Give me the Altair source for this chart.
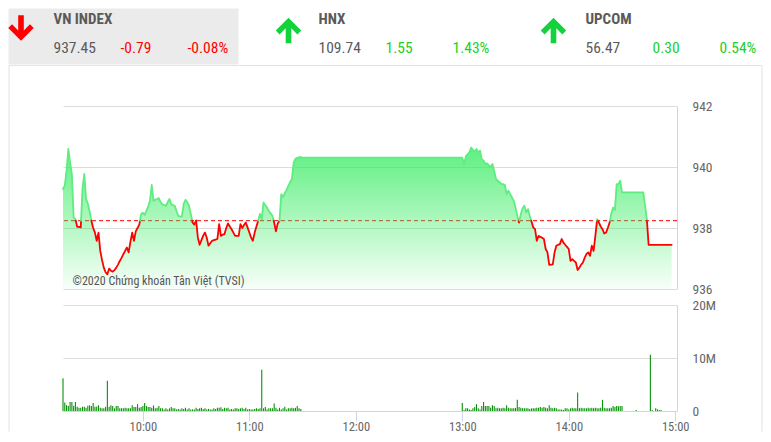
import altair as alt
import pandas as pd

DAY = "2020-10-21"

# ---------------- header data ----------------
index_names = ["VN INDEX", "HNX", "UPCOM"]
index_values = ["937.45", "109.74", "56.47"]
index_changes = ["-0.79", "1.55", "0.30"]
index_pcts = ["-0.08%", "1.43%", "0.54%"]

copyright_text = "©2020 Chứng khoán Tân Việt (TVSI)"

# ---------------- intraday VN-Index ----------------
price_times = [
    "09:15", "09:16", "09:17", "09:18", "09:19", "09:20", "09:21", "09:22", "09:23", "09:24",
    "09:25", "09:26", "09:27", "09:28", "09:29", "09:30", "09:31", "09:32", "09:33", "09:34",
    "09:35", "09:36", "09:37", "09:38", "09:39", "09:40", "09:41", "09:42", "09:43", "09:44",
    "09:45", "09:46", "09:47", "09:48", "09:49", "09:50", "09:51", "09:52", "09:53", "09:54",
    "09:55", "09:56", "09:57", "09:58", "09:59", "10:00", "10:01", "10:02", "10:03", "10:04",
    "10:05", "10:06", "10:07", "10:08", "10:09", "10:10", "10:11", "10:12", "10:13", "10:14",
    "10:15", "10:16", "10:17", "10:18", "10:19", "10:20", "10:21", "10:22", "10:23", "10:24",
    "10:25", "10:26", "10:27", "10:28", "10:29", "10:30", "10:31", "10:32", "10:33", "10:34",
    "10:35", "10:36", "10:37", "10:38", "10:39", "10:40", "10:41", "10:42", "10:43", "10:44",
    "10:45", "10:46", "10:47", "10:48", "10:49", "10:50", "10:51", "10:52", "10:53", "10:54",
    "10:55", "10:56", "10:57", "10:58", "10:59", "11:00", "11:01", "11:02", "11:03", "11:04",
    "11:05", "11:06", "11:07", "11:08", "11:09", "11:10", "11:11", "11:12", "11:13", "11:14",
    "11:15", "11:16", "11:17", "11:18", "11:19", "11:20", "11:21", "11:22", "11:23", "11:24",
    "11:25", "11:26", "11:27", "11:28", "11:29", "11:30",
    "13:00", "13:01", "13:02", "13:03", "13:04", "13:05", "13:06", "13:07", "13:08", "13:09",
    "13:10", "13:11", "13:12", "13:13", "13:14", "13:15", "13:16", "13:17", "13:18", "13:19",
    "13:20", "13:21", "13:22", "13:23", "13:24", "13:25", "13:26", "13:27", "13:28", "13:29",
    "13:30", "13:31", "13:32", "13:33", "13:34", "13:35", "13:36", "13:37", "13:38", "13:39",
    "13:40", "13:41", "13:42", "13:43", "13:44", "13:45", "13:46", "13:47", "13:48", "13:49",
    "13:50", "13:51", "13:52", "13:53", "13:54", "13:55", "13:56", "13:57", "13:58", "13:59",
    "14:00", "14:01", "14:02", "14:03", "14:04", "14:05", "14:06", "14:07", "14:08", "14:09",
    "14:10", "14:11", "14:12", "14:13", "14:14", "14:15", "14:16", "14:17", "14:18", "14:19",
    "14:20", "14:21", "14:22", "14:23", "14:24", "14:25", "14:26", "14:27", "14:28", "14:29",
    "14:30", "14:42", "14:44", "14:45", "14:58",
]
price_values = [
    939.28, 939.39, 939.88, 940.59, 940.15, 939.77, 938.34, 938.29, 938.04, 938.04,
    938.02, 939.30, 939.77, 938.95, 938.80, 938.55, 938.24, 938.00, 937.85, 937.58,
    937.85, 937.25, 936.95, 936.70, 936.55, 936.48, 936.67, 936.60, 936.57, 936.62,
    936.70, 936.80, 936.92, 937.02, 937.14, 937.25, 937.36, 937.20, 937.55, 937.85,
    937.58, 937.89, 938.00, 938.11, 938.45, 938.50, 938.43, 938.56, 938.70, 938.89,
    939.41, 938.89, 938.93, 938.95, 938.98, 938.85, 938.78, 938.75, 938.73, 938.85,
    938.95, 938.78, 938.75, 938.73, 938.55, 938.40, 938.38, 938.37, 938.78, 938.92,
    938.85, 938.73, 938.46, 938.18, 938.11, 938.25, 937.69, 937.45, 937.60, 937.75,
    937.85, 937.68, 937.42, 937.50, 937.58, 937.60, 937.62, 937.64, 938.13, 937.74,
    937.78, 937.80, 938.00, 938.15, 938.05, 937.96, 937.85, 937.74, 937.74, 937.74,
    938.13, 938.00, 938.10, 938.18, 938.02, 937.85, 937.69, 937.58, 937.85, 938.05,
    938.24, 938.46, 938.29, 938.84, 938.75, 938.67, 938.56, 938.48, 938.40, 938.18,
    937.89, 938.15, 938.24, 939.11, 939.02, 939.15, 939.25, 939.39, 939.50, 939.61,
    940.15, 940.27, 940.30, 940.32, 940.32, 940.31,
    940.31, 940.08, 940.35, 940.42, 940.48, 940.64, 940.56, 940.51, 940.59, 940.48,
    940.54, 940.26, 940.21, 940.10, 940.12, 940.05, 940.01, 940.10, 939.86, 939.61,
    939.55, 939.50, 939.44, 939.44, 939.41, 939.11, 939.22, 939.11, 939.00, 938.89,
    938.67, 938.40, 938.18, 938.46, 938.65, 938.73, 938.51, 938.62, 938.40, 938.21,
    938.02, 937.96, 937.58, 937.74, 937.71, 937.68, 937.64, 937.31, 937.20, 936.79,
    936.80, 936.81, 937.20, 937.42, 937.45, 937.47, 937.64, 937.52, 937.45, 937.38,
    937.31, 936.92, 936.98, 936.92, 936.87, 936.62, 936.70, 936.80, 936.87, 937.03,
    937.15, 937.20, 937.09, 937.42, 937.25, 937.74, 938.29, 938.18, 938.05, 937.96,
    937.82, 937.85, 938.00, 938.18, 938.48, 938.67, 938.59, 939.44, 939.44, 939.55,
    939.17, 939.17, 938.29, 937.45, 937.45,
]

# ---------------- volume (millions of shares per minute) ----------------
vol_morning_start = "09:15"
vol_morning = [
    6.2, 1.6, 1.1, 0.95, 1.7, 1.7, 1.0, 1.7, 0.8, 0.6,
    0.6, 0.8, 0.8, 0.6, 1.0, 1.1, 0.95, 1.5, 0.8, 0.85,
    1.1, 0.6, 0.5, 0.5, 0.8, 5.7, 0.8, 1.1, 0.95, 0.5,
    0.95, 0.95, 0.5, 0.5, 0.5, 0.6, 0.5, 0.5, 0.5, 1.1,
    0.76, 0.76, 1.3, 0.6, 0.76, 0.95, 1.5, 0.95, 0.76, 0.76,
    0.6, 1.05, 0.5, 0.6, 0.95, 0.5, 0.5, 0.3, 0.5, 0.3,
    0.5, 0.76, 0.5, 0.5, 0.3, 0.4, 0.3, 0.5, 0.4, 0.6,
    0.3, 0.5, 0.3, 0.3, 0.3, 0.6, 0.4, 0.5, 0.6, 0.4,
    0.5, 0.3, 0.4, 0.3, 0.3, 0.5, 0.4, 0.6, 0.6, 0.7,
    0.4, 0.6, 0.5, 0.6, 0.3, 0.4, 0.3, 0.5, 0.5, 0.4,
    0.5, 0.6, 0.4, 0.6, 0.3, 0.4, 0.3, 0.3, 0.4, 0.5,
    0.4, 0.5, 7.8, 0.5, 0.76, 0.3, 0.5, 0.5, 0.5, 1.4,
    0.6, 0.3, 0.6, 0.3, 0.5, 0.8, 0.3, 0.5, 0.5, 0.6,
    0.5, 0.6, 0.95, 0.5, 0.4,
]
vol_afternoon_start = "13:00"
vol_afternoon = [
    1.5, 0.2, 0.5, 0.5, 0.3, 0.2, 0.5, 0.76, 1.3, 0.5,
    0.3, 0.95, 1.7, 0.95, 0.95, 0.95, 0.6, 1.1, 0.95, 0.5,
    0.6, 0.5, 0.5, 0.6, 0.5, 1.1, 0.6, 0.5, 0.5, 0.5,
    0.6, 2.1, 0.76, 0.6, 0.5, 0.5, 0.5, 0.5, 0.4, 0.5,
    0.5, 0.5, 0.6, 0.6, 0.76, 0.6, 0.76, 0.6, 0.5, 1.1,
    0.6, 0.5, 0.6, 0.5, 0.3, 0.3, 0.3, 0.2, 0.5, 0.5,
    0.3, 0.5, 0.6, 0.5, 0.5, 3.5, 0.5, 0.6, 0.5, 0.5,
    0.5, 0.6, 0.5, 0.6, 0.5, 0.6, 0.5, 0.5, 0.6, 2.1,
    0.6, 0.5, 0.5, 0.5, 0.6, 0.95, 0.76, 0.95, 0.9, 0.95,
    0.95,
]
vol_late_times = ["14:38", "14:46", "14:47", "14:49", "14:50", "14:51", "14:52"]
vol_late_values = [0.2, 10.6, 0.2, 0.5, 0.3, 0.2, 0.2]

# ---------------- build tables ----------------
prev_close = round(float(index_values[0]) - float(index_changes[0]), 2)


def ts(hm):
    return pd.Timestamp(f"{DAY} {hm}")


price_df = pd.DataFrame({"time": [ts(t) for t in price_times], "value": price_values})


def lab(up):
    return "up" if up else "down"


pts = list(zip(price_df["time"], price_df["value"]))
rows = []
run = 0
side = pts[0][1] >= prev_close
rows.append(dict(time=pts[0][0], value=pts[0][1], side=lab(side), run=run))
for (t1, v1), (t2, v2) in zip(pts[:-1], pts[1:]):
    s2 = v2 >= prev_close
    if s2 != side:
        f = (prev_close - v1) / (v2 - v1)
        tc = (t1 + (t2 - t1) * f).round("s")
        rows.append(dict(time=tc, value=prev_close, side=lab(side), run=run))
        run += 1
        side = s2
        rows.append(dict(time=tc, value=prev_close, side=lab(side), run=run))
    rows.append(dict(time=t2, value=v2, side=lab(side), run=run))
line_df = pd.DataFrame(rows)

vol_times = (
    [ts(vol_morning_start) + pd.Timedelta(minutes=i) for i in range(len(vol_morning))]
    + [ts(vol_afternoon_start) + pd.Timedelta(minutes=i) for i in range(len(vol_afternoon))]
    + [ts(t) for t in vol_late_times]
)
vol_df = pd.DataFrame({"time": vol_times, "vol": vol_morning + vol_afternoon + vol_late_values})
ref_df = pd.DataFrame({"ref": [prev_close]})

# ---------------- styling / layout ----------------
FONT = "Liberation Sans Narrow, Roboto Condensed, Roboto"
W, H1, H2 = 614, 183, 106
OX, OY = 62.5, 105.4  # page position of the price plot origin

GREEN_LINE = "#5fec80"
RED = "#ff0000"
UP_TXT = "#1ccf2a"
GRID = "#dcdcdc"
AXIS_LINE = "#ccd6eb"
LABEL = "#666666"


def px(page_x):
    return page_x - OX


def py(page_y):
    return page_y - OY


def dt(h, m=0):
    return alt.DateTime(year=2020, month=10, date=21, hours=h, minutes=m)


x_scale = alt.Scale(domain=[dt(9, 15), dt(15, 1)], padding=0)
y_price = alt.Scale(domain=[936, 942], nice=False, zero=False)
price_axis = alt.Axis(
    orient="right", values=[936, 938, 940, 942], grid=True, gridColor=GRID,
    domain=True, domainColor=AXIS_LINE, ticks=False, tickSize=0, labelPadding=15,
    labelColor=LABEL, labelFontSize=13.5, labelFont=FONT, title=None, format="d",
)

base_price = alt.Chart(price_df)

ref_rule = alt.Chart(ref_df).mark_rule(color=RED, strokeDash=[4, 3], strokeWidth=1).encode(
    y=alt.Y("ref:Q", scale=y_price, axis=price_axis)
)

area = base_price.mark_area(
    color=alt.Gradient(
        gradient="linear",
        stops=[
            alt.GradientStop(color="rgba(40,235,85,0.75)", offset=0),
            alt.GradientStop(color="rgba(40,235,85,0.03)", offset=1),
        ],
        x1=0, x2=0, y1=0, y2=1,
    )
).encode(
    x=alt.X("time:T", scale=x_scale, axis=None),
    y=alt.Y("value:Q", scale=y_price, axis=price_axis),
    y2=alt.datum(936),
)

line = alt.Chart(line_df).mark_line(strokeWidth=1.8, strokeJoin="round", strokeCap="round").encode(
    x=alt.X("time:T", scale=x_scale, axis=None),
    y=alt.Y("value:Q", scale=y_price, axis=price_axis),
    color=alt.Color("side:N", scale=alt.Scale(domain=["up", "down"], range=[GREEN_LINE, RED]), legend=None),
    detail="run:N",
)

copyright_mark = alt.Chart(ref_df).mark_text(
    text=copyright_text, align="left", baseline="middle", font=FONT, fontSize=12, color="#555555"
).encode(x=alt.value(px(72)), y=alt.value(py(280)))

# decorations: header box, panel borders, arrows, header texts
decor = []
decor.append(alt.Chart(ref_df).mark_rect(color="#ebebeb").encode(
    x=alt.value(px(8)), x2=alt.value(px(238)), y=alt.value(py(8)), y2=alt.value(py(64))))
decor.append(alt.Chart(ref_df).mark_rule(color="#e2e2e2", strokeWidth=1).encode(
    x=alt.value(px(8.5)), x2=alt.value(px(761.5)), y=alt.value(py(65))))
for xx in (8.5, 761.5):
    decor.append(alt.Chart(ref_df).mark_rule(color="#e2e2e2", strokeWidth=1).encode(
        x=alt.value(px(xx)), y=alt.value(py(65)), y2=alt.value(py(431))))

DOWN = "M1,0 L0.7,-0.3 L0.22,0.18 L0.22,-1 L-0.22,-1 L-0.22,0.18 L-0.7,-0.3 L-1,0 L0,1 Z"
UP = "M1,0 L0.7,0.3 L0.22,-0.18 L0.22,1 L-0.22,1 L-0.22,-0.18 L-0.7,0.3 L-1,0 L0,-1 Z"

col_text_x = [53, 318, 585]
col_arrow_x = [20.5, 288, 553]
col_arrow_y = [27.5, 30, 30]
for i, name in enumerate(index_names):
    up = float(index_changes[i]) >= 0
    ccol = UP_TXT if up else RED
    decor.append(alt.Chart(ref_df).mark_point(
        shape=UP if up else DOWN, filled=True, size=650, opacity=1, strokeWidth=0,
        color=("#14d23c" if up else RED),
    ).encode(x=alt.value(px(col_arrow_x[i])), y=alt.value(py(col_arrow_y[i]))))
    x0 = col_text_x[i]
    decor.append(alt.Chart(ref_df).mark_text(
        text=name, align="left", baseline="middle", font=FONT, fontSize=15,
        fontWeight="bold", color="#5a5a5a",
    ).encode(x=alt.value(px(x0)), y=alt.value(py(18))))
    decor.append(alt.Chart(ref_df).mark_text(
        text=index_values[i], align="left", baseline="middle", font=FONT, fontSize=15.5, color="#5a5a5a",
    ).encode(x=alt.value(px(x0)), y=alt.value(py(47))))
    decor.append(alt.Chart(ref_df).mark_text(
        text=index_changes[i], align="left", baseline="middle", font=FONT, fontSize=15.5, color=ccol,
    ).encode(x=alt.value(px(x0 + 67)), y=alt.value(py(47))))
    decor.append(alt.Chart(ref_df).mark_text(
        text=index_pcts[i], align="left", baseline="middle", font=FONT, fontSize=15.5, color=ccol,
    ).encode(x=alt.value(px(x0 + 134)), y=alt.value(py(47))))

price_chart = alt.layer(*decor, ref_rule, area, line, copyright_mark).properties(width=W, height=H1)

vol_chart = alt.Chart(vol_df).mark_bar(width=1.1, color="#089108").encode(
    x=alt.X("time:T", scale=x_scale, axis=alt.Axis(
        values=[dt(h) for h in range(10, 16)], format="%H:%M", grid=False,
        domain=True, domainColor=AXIS_LINE, ticks=True, tickColor=AXIS_LINE, tickSize=10,
        labelColor=LABEL, labelFontSize=12.5, labelFont=FONT, labelPadding=-1, title=None,
    )),
    y=alt.Y("vol:Q", scale=alt.Scale(domain=[0, 20], nice=False), axis=alt.Axis(
        orient="right", values=[0, 10, 20], grid=True, gridColor=GRID,
        domain=True, domainColor=AXIS_LINE, ticks=False, tickSize=0, labelPadding=15,
        labelColor=LABEL, labelFontSize=13.5, labelFont=FONT, title=None,
        labelExpr="datum.value == 0 ? '0' : datum.value + 'M'",
    )),
).properties(width=W, height=H2)

chart = alt.vconcat(price_chart, vol_chart, spacing=16, bounds="flush").resolve_scale(
    x="independent"
).properties(padding=0).configure_view(stroke=None)

chart.save("out.html", embed_options={"renderer": "svg", "actions": False})
